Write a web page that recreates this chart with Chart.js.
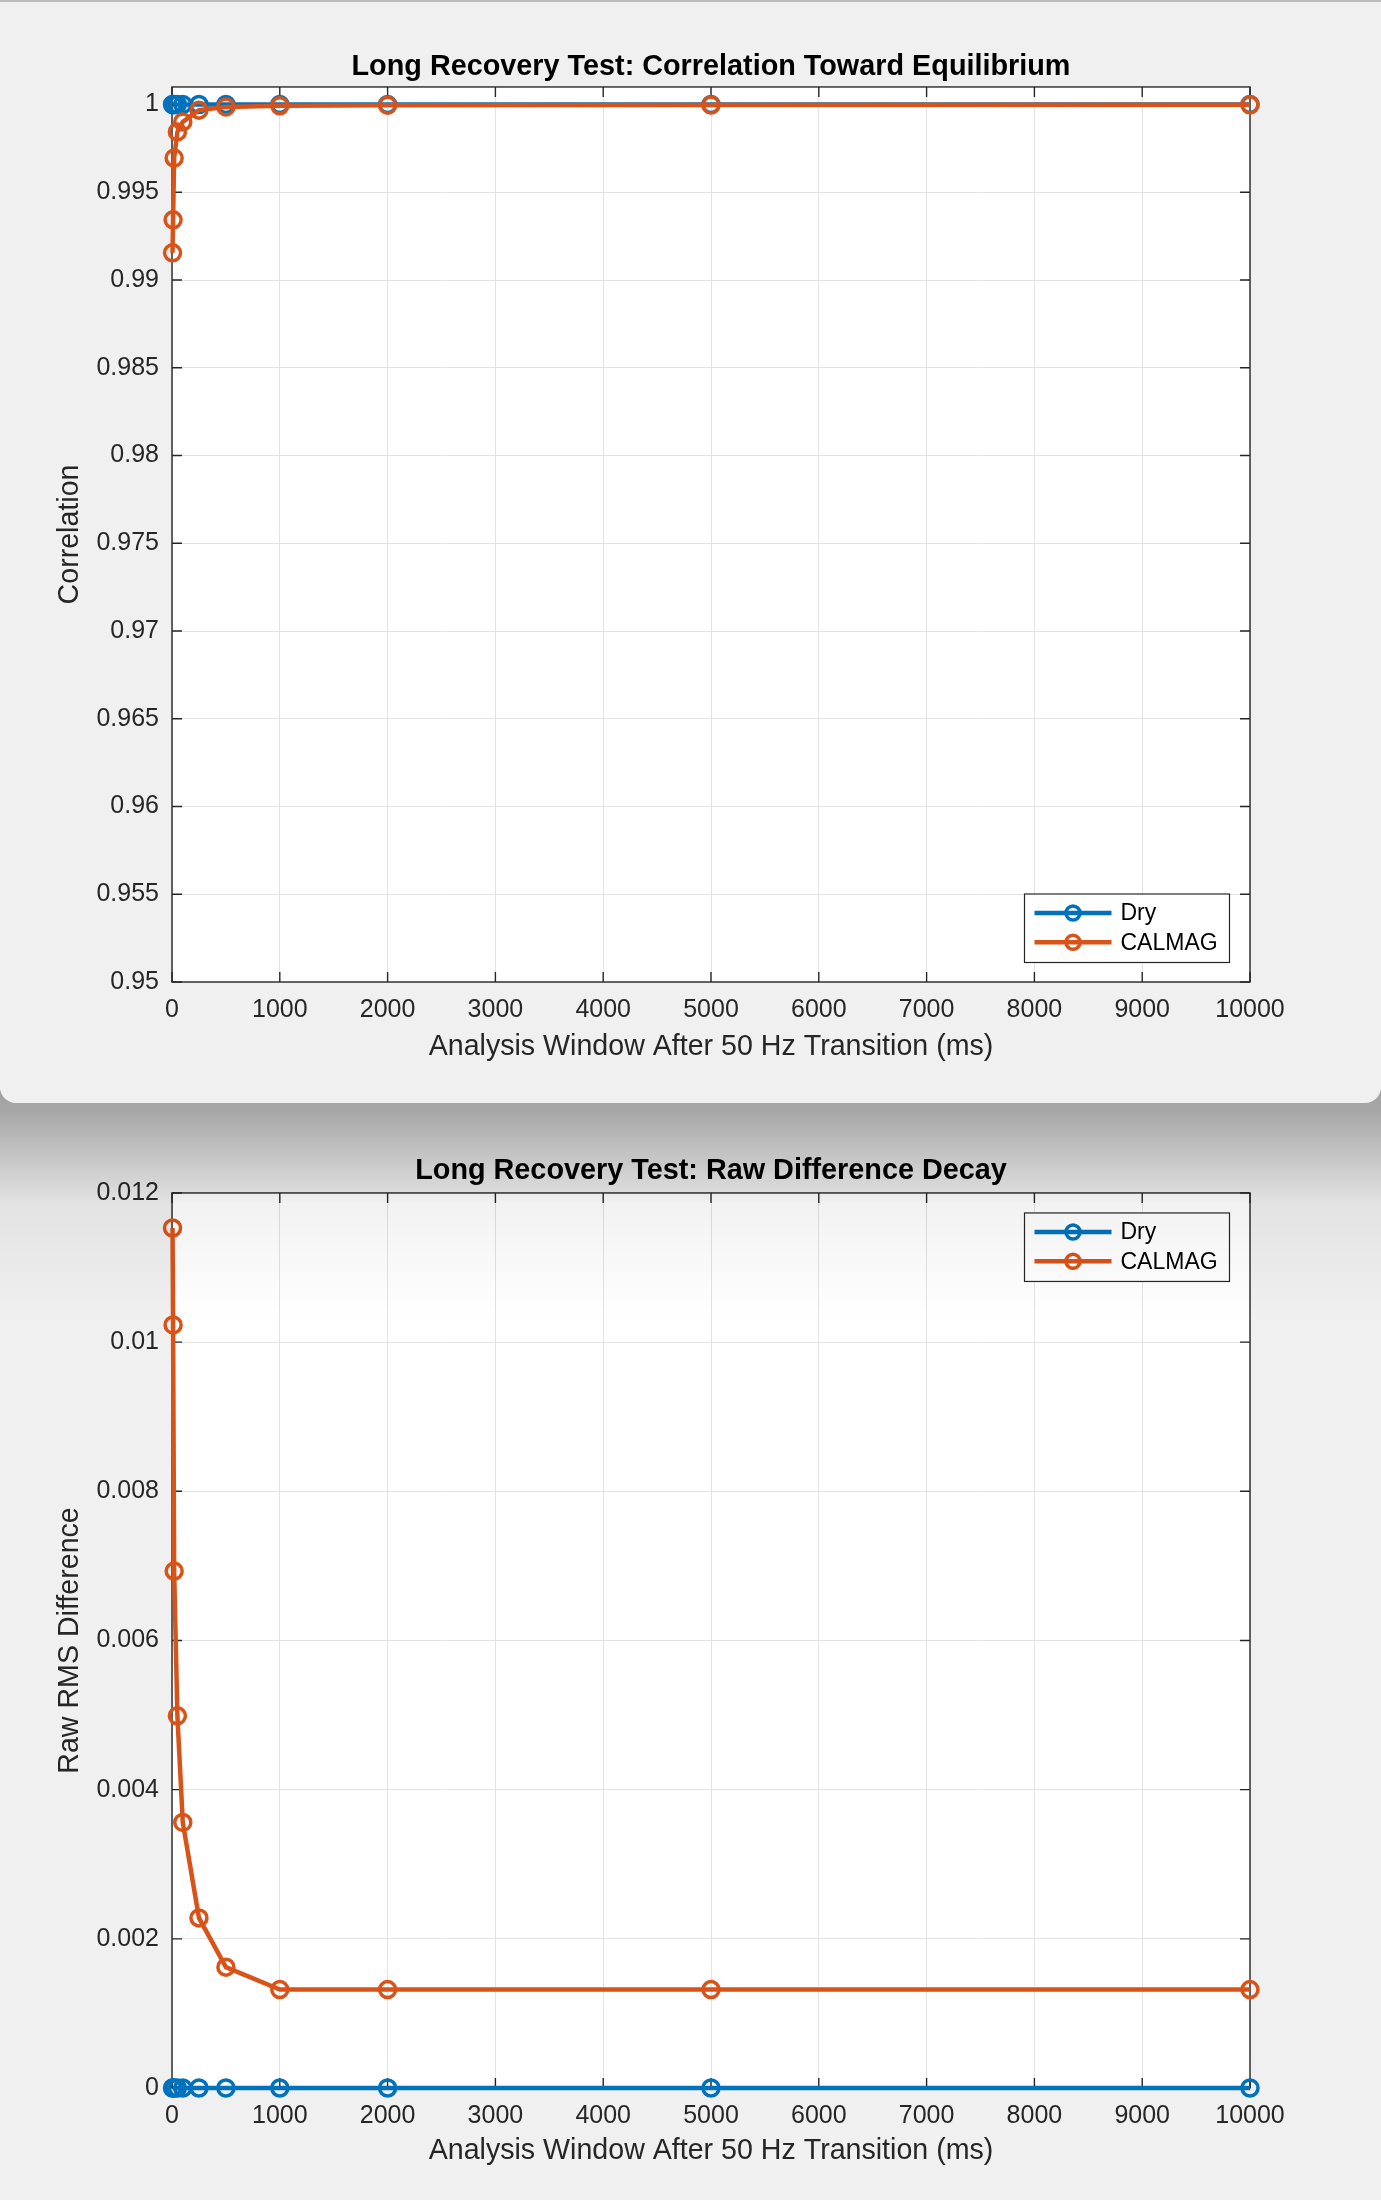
<!DOCTYPE html>
<html>
<head>
<meta charset="utf-8">
<script src="https://cdn.jsdelivr.net/npm/chart.js@4.4.0/dist/chart.umd.min.js"></script>
<style>
  html, body { margin: 0; padding: 0; }
  body { width: 1381px; height: 2200px; background: #f0f0f0; position: relative; overflow: hidden; }
  #win1 { position: absolute; left: 0; top: 0; width: 1381px; height: 1103px; background: #f0f0f0; border-radius: 0 0 16px 16px; z-index: 3; overflow: hidden; }
  #win1 .edge { position: absolute; left: 0; top: 0; width: 1381px; height: 2px; background: #bcbcbc; }
  #win2 { position: absolute; left: 0; top: 1103px; width: 1381px; height: 1097px; z-index: 1; }
  #shadow { position: absolute; left: 0; top: 1090px; width: 1381px; height: 230px; z-index: 2; pointer-events: none;
    background: linear-gradient(to bottom, rgba(0,0,0,0.33) 0px, rgba(0,0,0,0.31) 19px, rgba(0,0,0,0.23) 47px, rgba(0,0,0,0.14) 80px, rgba(0,0,0,0.05) 115px, rgba(0,0,0,0) 230px); }
  canvas { position: absolute; left: 0; top: 0; }
</style>
</head>
<body>
<div id="win1"><canvas id="corrChart" width="1381" height="1103"></canvas><div class="edge"></div></div>
<div id="shadow"></div>
<div id="win2"><canvas id="diffChart" width="1381" height="1097"></canvas></div>
<script>
// analysis windows (ms)
var windows = [5, 10, 20, 50, 100, 250, 500, 1000, 2000, 5000, 10000];
var seriesNames = ['Dry', 'CALMAG'];
var seriesColors = ['#0072BD', '#D95319'];

// correlation toward equilibrium
var corrDry = [1, 1, 1, 1, 1, 1, 1, 1, 1, 1, 1];
var corrCalmag = [0.99155, 0.99343, 0.99695, 0.99844, 0.99901, 0.99968, 0.99986, 0.99993, 0.99996, 0.99997, 0.99998];

// raw RMS difference
var diffDry = [0, 0, 0, 0, 0, 0, 0, 0, 0, 0, 0];
var diffCalmag = [0.01153, 0.01023, 0.00693, 0.00499, 0.00356, 0.00228, 0.00162, 0.00132, 0.00132, 0.00132, 0.00132];

var xTicks = [0, 1000, 2000, 3000, 4000, 5000, 6000, 7000, 8000, 9000, 10000];
var corrTicks = [0.95, 0.955, 0.96, 0.965, 0.97, 0.975, 0.98, 0.985, 0.99, 0.995, 1];
var diffTicks = [0, 0.002, 0.004, 0.006, 0.008, 0.01, 0.012];

var FONT = 'Arial, "Liberation Sans", Helvetica, sans-serif';
var AXIS = '#262626';

// white plot area, box on four sides, inward ticks, legend box
var matlabAxes = {
    id: 'matlabAxes',
    beforeDraw: function (chart) {
        var a = chart.chartArea, ctx = chart.ctx;
        ctx.save();
        ctx.fillStyle = '#ffffff';
        ctx.fillRect(a.left, a.top, a.right - a.left, a.bottom - a.top);
        ctx.restore();
    },
    beforeDatasetsDraw: function (chart) {
        var a = chart.chartArea, ctx = chart.ctx;
        var xs = chart.scales.x, ys = chart.scales.y;
        ctx.save();
        ctx.strokeStyle = AXIS;
        ctx.lineWidth = 1.4;
        ctx.strokeRect(a.left, a.top, a.right - a.left, a.bottom - a.top);
        ctx.beginPath();
        xs.ticks.forEach(function (t) {
            var px = xs.getPixelForValue(t.value);
            ctx.moveTo(px, a.bottom); ctx.lineTo(px, a.bottom - 10);
            ctx.moveTo(px, a.top); ctx.lineTo(px, a.top + 10);
        });
        ys.ticks.forEach(function (t) {
            var py = ys.getPixelForValue(t.value);
            ctx.moveTo(a.left, py); ctx.lineTo(a.left + 10, py);
            ctx.moveTo(a.right, py); ctx.lineTo(a.right - 10, py);
        });
        ctx.stroke();
        ctx.restore();
    },
    afterDraw: function (chart, args, opts) {
        var a = chart.chartArea, ctx = chart.ctx;
        var w = 205, h = 68.5;
        var x0 = a.right - 20.5 - w;
        var y0 = opts.corner === 'se' ? a.bottom - 19.5 - h : a.top + 20;
        ctx.save();
        ctx.fillStyle = '#ffffff';
        ctx.fillRect(x0, y0, w, h);
        ctx.strokeStyle = AXIS;
        ctx.lineWidth = 1.2;
        ctx.strokeRect(x0, y0, w, h);
        seriesNames.forEach(function (name, i) {
            var cy = y0 + 19 + i * 29.3;
            ctx.strokeStyle = seriesColors[i];
            ctx.lineWidth = 4.5;
            ctx.beginPath();
            ctx.moveTo(x0 + 10, cy); ctx.lineTo(x0 + 87, cy);
            ctx.stroke();
            ctx.lineWidth = 3.5;
            ctx.beginPath();
            ctx.arc(x0 + 48.5, cy, 7, 0, Math.PI * 2);
            ctx.stroke();
            ctx.fillStyle = '#000000';
            ctx.font = '23px ' + FONT;
            ctx.textAlign = 'left';
            ctx.textBaseline = 'middle';
            ctx.fillText(name, x0 + 96, cy + 1);
        });
        ctx.restore();
    }
};

function series(values, i) {
    return {
        label: seriesNames[i],
        data: windows.map(function (x, k) { return { x: x, y: values[k] }; }),
        borderColor: seriesColors[i],
        backgroundColor: seriesColors[i],
        borderWidth: 4.5,
        pointRadius: 8,
        pointBorderWidth: 3.5,
        pointBorderColor: seriesColors[i],
        pointBackgroundColor: 'rgba(0,0,0,0)',
        pointStyle: 'circle',
        tension: 0,
        clip: false,
        order: i === 0 ? 1 : 0
    };
}

function makeChart(id, p) {
    var ctx = document.getElementById(id).getContext('2d');
    return new Chart(ctx, {
        type: 'line',
        data: { datasets: [series(p.dry, 0), series(p.calmag, 1)] },
        options: {
            responsive: false,
            animation: false,
            events: [],
            layout: { padding: { left: 0, right: 131, top: 0, bottom: 0 } },
            plugins: {
                legend: { display: false },
                tooltip: { enabled: false },
                title: {
                    display: true,
                    fullSize: false,
                    text: p.title,
                    color: '#000000',
                    font: { family: FONT, size: 28.8, weight: 'bold', lineHeight: 1.2 },
                    padding: { top: p.titleY - 17.3, bottom: p.plotTop - p.titleY - 17.3 }
                },
                matlabAxes: { corner: p.corner }
            },
            scales: {
                x: {
                    type: 'linear',
                    min: 0,
                    max: 10000,
                    afterBuildTicks: function (s) { s.ticks = xTicks.map(function (v) { return { value: v }; }); },
                    afterFit: function (s) { s.height = p.height - p.plotBottom; },
                    grid: { color: '#e3e3e3', lineWidth: 1, drawTicks: false },
                    border: { display: false },
                    ticks: {
                        autoSkip: false, maxRotation: 0, padding: 13, color: AXIS,
                        font: { family: FONT, size: 25 },
                        callback: function (v) { return String(v); }
                    },
                    title: {
                        display: true,
                        text: 'Analysis Window After 50 Hz Transition (ms)',
                        color: AXIS,
                        font: { family: FONT, size: 28.6, lineHeight: 1.2 },
                        padding: { top: 0, bottom: p.height - p.xTitleY - 17.2 }
                    }
                },
                y: {
                    type: 'linear',
                    min: p.yMin,
                    max: p.yMax,
                    afterBuildTicks: function (s) { s.ticks = p.yTicks.map(function (v) { return { value: v }; }); },
                    afterFit: function (s) { s.width = 172; },
                    grid: { color: '#e3e3e3', lineWidth: 1, drawTicks: false },
                    border: { display: false },
                    ticks: {
                        padding: 13, color: AXIS,
                        font: { family: FONT, size: 25 },
                        callback: function (v) { return String(+v.toFixed(4)); }
                    },
                    title: {
                        display: true,
                        text: p.yTitle,
                        color: AXIS,
                        font: { family: FONT, size: 28.6, lineHeight: 1.2 },
                        padding: { top: 53, bottom: 0 }
                    }
                }
            }
        },
        plugins: [matlabAxes]
    });
}

makeChart('corrChart', {
    title: 'Long Recovery Test: Correlation Toward Equilibrium',
    yTitle: 'Correlation',
    dry: corrDry, calmag: corrCalmag,
    yMin: 0.95, yMax: 1.001, yTicks: corrTicks,
    height: 1103, plotTop: 87, plotBottom: 982, titleY: 67, xTitleY: 1047,
    corner: 'se'
});

makeChart('diffChart', {
    title: 'Long Recovery Test: Raw Difference Decay',
    yTitle: 'Raw RMS Difference',
    dry: diffDry, calmag: diffCalmag,
    yMin: 0, yMax: 0.012, yTicks: diffTicks,
    height: 1097, plotTop: 90, plotBottom: 985, titleY: 68, xTitleY: 1048,
    corner: 'ne'
});
</script>
</body>
</html>
